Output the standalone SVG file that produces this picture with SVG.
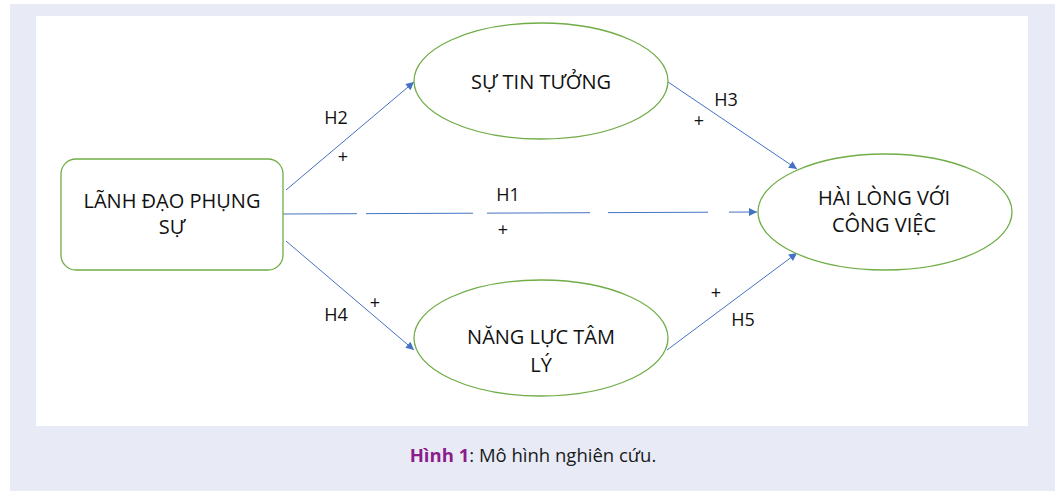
<svg xmlns="http://www.w3.org/2000/svg" width="1060" height="491" viewBox="0 0 1060 491">
<style>
.node{fill:#fff;stroke:#70ad47;stroke-width:1.3}
.lbl{font-family:"Open Sans","Noto Sans","DejaVu Sans",sans-serif;font-size:20px;fill:#111;text-anchor:middle}
.h{font-family:"Open Sans","Noto Sans","DejaVu Sans",sans-serif;font-size:18px;fill:#111;text-anchor:middle}
.conn{stroke:#4472c4;stroke-width:1;fill:none}
.cap{font-family:"Open Sans","Noto Sans","DejaVu Sans",sans-serif;font-size:18.5px;fill:#1a1a1a}
</style>
<defs>
<marker id="arr" viewBox="0 0 10 10" refX="10" refY="5" markerWidth="10" markerHeight="8" markerUnits="userSpaceOnUse" orient="auto">
<path d="M0,0 L10,5 L0,10 z" fill="#4472c4"/>
</marker>
</defs>
<rect x="10" y="4" width="1045" height="487" fill="#e8ebf6"/>
<rect x="36" y="16" width="992" height="410" fill="#fff"/>
<g id="connectors">
<line class="conn" x1="286" y1="190" x2="414" y2="82" marker-end="url(#arr)"/>
<line class="conn" x1="283" y1="214" x2="757" y2="212" stroke-dasharray="74 9 107 14 103 18 100 21 28" marker-end="url(#arr)"/>
<line class="conn" x1="668" y1="82" x2="797" y2="169" marker-end="url(#arr)"/>
<line class="conn" x1="286" y1="241" x2="414" y2="350" marker-end="url(#arr)"/>
<line class="conn" x1="667" y1="350" x2="797" y2="253" marker-end="url(#arr)"/>
<text class="h" x="336" y="124">H2</text>
<text class="h" x="343" y="163">+</text>
<text class="h" x="508" y="201">H1</text>
<text class="h" x="503" y="236">+</text>
<text class="h" x="726" y="106">H3</text>
<text class="h" x="699" y="127">+</text>
<text class="h" x="336" y="321">H4</text>
<text class="h" x="375" y="309">+</text>
<text class="h" x="743" y="326">H5</text>
<text class="h" x="716" y="299">+</text>
</g>
<g id="lanh-dao">
<rect class="node" x="61" y="159" width="222" height="111" rx="15"/>
<text class="lbl" x="172" y="208">LÃNH ĐẠO PHỤNG</text>
<text class="lbl" x="172" y="234">SỰ</text>
</g>
<g id="tin-tuong">
<ellipse class="node" cx="541" cy="81" rx="127" ry="58"/>
<text class="lbl" x="541" y="89">SỰ TIN TƯỞNG</text>
</g>
<g id="nang-luc">
<ellipse class="node" cx="541" cy="338" rx="127" ry="58"/>
<text class="lbl" x="541" y="344">NĂNG LỰC TÂM</text>
<text class="lbl" x="541" y="372">LÝ</text>
</g>
<g id="hai-long">
<ellipse class="node" cx="885" cy="212" rx="127" ry="58"/>
<text class="lbl" x="884" y="205">HÀI LÒNG VỚI</text>
<text class="lbl" x="884" y="232">CÔNG VIỆC</text>
</g>
<text class="cap" x="533" y="462" text-anchor="middle"><tspan font-weight="bold" fill="#8b1c8c">Hình 1</tspan>: Mô hình nghiên cứu.</text>
</svg>
